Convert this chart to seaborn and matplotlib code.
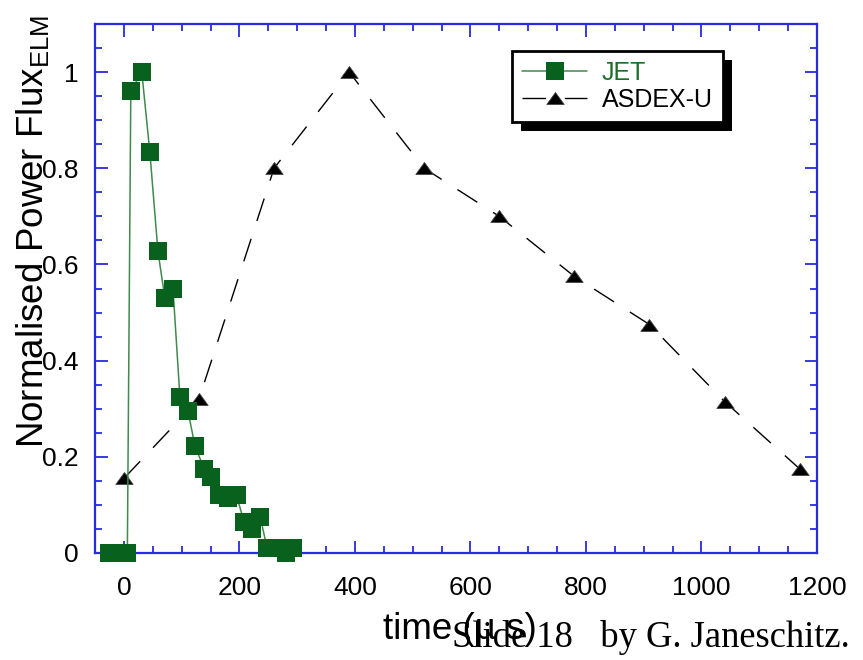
import numpy as np
import pandas as pd
import matplotlib
matplotlib.use("Agg")
import matplotlib.pyplot as plt
import seaborn as sns
from matplotlib.ticker import MultipleLocator
from matplotlib.patches import Rectangle
from matplotlib.path import Path

# ---- data ----
jet_time = [-25, -10, 6, 12, 31, 45, 59, 71, 85, 97, 111, 123, 139, 151,
            165, 180, 195, 208, 222, 236, 248, 265, 280, 292]
jet_flux = [0.0, 0.0, 0.0, 0.96, 1.0, 0.833, 0.627, 0.53, 0.55, 0.325, 0.295,
            0.223, 0.175, 0.158, 0.12, 0.115, 0.12, 0.065, 0.05, 0.075,
            0.01, 0.01, 0.0, 0.01]
asdex_time = [0, 130, 260, 390, 520, 650, 780, 910, 1040, 1170]
asdex_flux = [0.155, 0.32, 0.8, 1.0, 0.8, 0.7, 0.575, 0.475, 0.315, 0.175]
series_names = ["JET", "ASDEX-U"]
x_ticks = [0, 200, 400, 600, 800, 1000, 1200]
y_ticks = [0, 0.2, 0.4, 0.6, 0.8, 1.0]
y_tick_labels = ["0", "0.2", "0.4", "0.6", "0.8", "1"]

jet_df = pd.DataFrame({"time": jet_time, "flux": jet_flux})
asdex_df = pd.DataFrame({"time": asdex_time, "flux": asdex_flux})

sns.set_theme(style="white")
plt.rcParams["font.family"] = ["Liberation Sans", "DejaVu Sans"]
plt.rcParams["mathtext.fontset"] = "custom"
plt.rcParams["mathtext.rm"] = "Liberation Sans"

W, H = 863, 660
fig = plt.figure(figsize=(W / 100, H / 100), dpi=100)
ax = fig.add_axes([95 / W, 1 - 553 / H, (817 - 95) / W, (553 - 24) / H])

green_line = "#3f8a4c"
green_mark = "#08621d"
tri = Path([(-1, -0.69), (1, -0.69), (0, 0.69), (-1, -0.69)],
           [Path.MOVETO, Path.LINETO, Path.LINETO, Path.CLOSEPOLY])

sns.lineplot(data=jet_df, x="time", y="flux", ax=ax, sort=False, estimator=None,
             color=green_line, lw=1.1, marker="s", markersize=13,
             markerfacecolor=green_mark, markeredgecolor=green_mark,
             markeredgewidth=0, label=series_names[0], clip_on=False, zorder=4)
sns.lineplot(data=asdex_df, x="time", y="flux", ax=ax, sort=False, estimator=None,
             color="black", lw=1.0, linestyle=(0, (17, 13.5)), marker=tri,
             markersize=12.5, markerfacecolor="black", markeredgecolor="#444444",
             markeredgewidth=0.6, label=series_names[1], clip_on=False, zorder=3)

ax.set_xlim(-50, 1200)
ax.set_ylim(0, 1.1)
ax.set_xticks(x_ticks)
ax.set_yticks(y_ticks)
ax.set_yticklabels(y_tick_labels)
ax.xaxis.set_minor_locator(MultipleLocator(50))
ax.yaxis.set_minor_locator(MultipleLocator(0.05))

spine_col = "#2a2ae0"
for s in ax.spines.values():
    s.set_color(spine_col)
    s.set_linewidth(1.6)
    s.set_visible(True)
ax.tick_params(which="both", direction="in", colors=spine_col, top=True,
               right=True, bottom=True, left=True, width=1.3,
               labelcolor="black")
ax.tick_params(which="major", length=9)
ax.tick_params(which="minor", length=5)
ax.tick_params(axis="x", which="major", labelsize=19, pad=16.5)
ax.tick_params(axis="y", which="major", labelsize=19, pad=12)

ax.set_xlabel("time (µ s)", fontsize=26.5, color="black")
ax.xaxis.set_label_coords(0.505, -0.112)
ax.set_ylabel(r"Normalised Power Flux$_{\mathrm{ELM}}$", fontsize=26.5,
              color="black")
ax.yaxis.label.set_va("center")
ax.yaxis.set_label_coords(-0.085, 0.607)

leg = ax.legend(loc="upper left", bbox_to_anchor=(0.5776, 0.949),
                borderaxespad=0, fontsize=18, frameon=True, fancybox=False,
                framealpha=1, edgecolor="black", handlelength=2.6,
                handletextpad=0.6, borderpad=0.4, labelspacing=0.12)
leg.get_frame().set_linewidth(2)
leg.set_zorder(6)
texts = leg.get_texts()
texts[0].set_color("#1b6e27")
texts[1].set_color("black")

fig.text(452 / W, 1 - 647 / H, "Slide 18   by G. Janeschitz.",
         family=["Liberation Serif", "DejaVu Serif"], fontsize=26.3,
         ha="left", va="baseline", color="black")

fig.canvas.draw()
bb = leg.get_window_extent()
shadow = Rectangle((bb.x0 + 9, bb.y0 - 9), bb.width, bb.height,
                   transform=None, facecolor="black", edgecolor="none",
                   zorder=5.9, clip_on=False)
ax.add_artist(shadow)

fig.savefig("out.png", dpi=100)
